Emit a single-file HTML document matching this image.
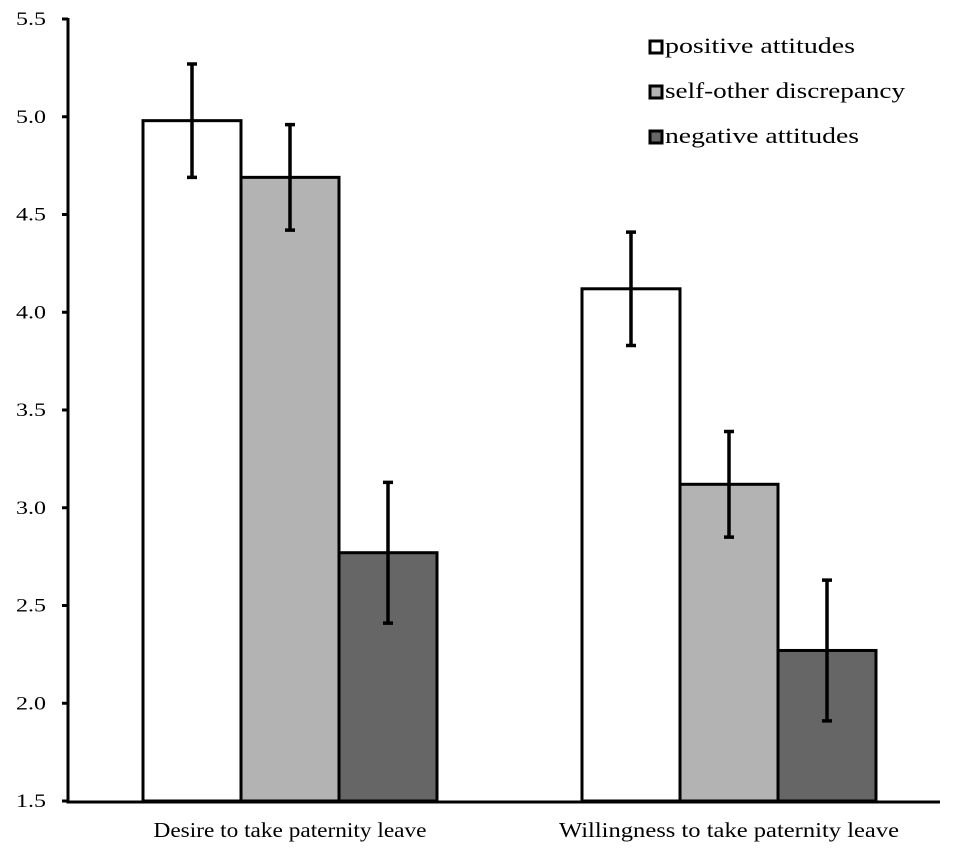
<!DOCTYPE html>
<html><head><meta charset="utf-8"><style>
body{margin:0;background:#fff;}
svg{display:block;font-family:"Liberation Serif",serif;}
</style></head><body>
<svg id="chart" width="957" height="857"></svg>
<script>
const categories=["Desire to take paternity leave","Willingness to take paternity leave"];
const seriesNames=["positive attitudes","self-other discrepancy","negative attitudes"];
const positive=[4.98,4.12];
const selfOther=[4.69,3.12];
const negative=[2.77,2.27];
const errPositive=[0.29,0.29];
const errSelfOther=[0.27,0.27];
const errNegative=[0.36,0.36];
const yTicks=[1.5,2.0,2.5,3.0,3.5,4.0,4.5,5.0,5.5];
const series=[positive,selfOther,negative];
const errs=[errPositive,errSelfOther,errNegative];
const fills=["#ffffff","#b3b3b3","#666666"];
const NS="http://www.w3.org/2000/svg";
const svg=document.getElementById('chart');
function y(v){return 801-(v-1.5)*195.5;}
const groupStart=[143,582], barW=98;
const catWidths=[273,340];
const legendWidths=[190,240,194];
function el(t,a){const e=document.createElementNS(NS,t);for(const k in a)e.setAttribute(k,a[k]);svg.appendChild(e);return e;}
series.forEach((s,si)=>{s.forEach((v,ci)=>{
 const x=groupStart[ci]+si*barW;
 const r=el('rect',{x:x,y:y(v),width:barW,height:y(1.5)-y(v),fill:fills[si],stroke:'#000','stroke-width':3});
 
 
 const cx=x+barW/2,e=errs[si][ci];
 const g=el('path',{d:`M${cx},${y(v+e)}V${y(v-e)}M${cx-5},${y(v+e)}H${cx+5}M${cx-5},${y(v-e)}H${cx+5}`,stroke:'#000','stroke-width':3.5,fill:'none'});
 
 
});});
const ax=el('path',{d:'M68,18V802H940',stroke:'#000','stroke-width':3,fill:'none'});


yTicks.forEach(t=>{
 el('path',{d:`M62,${y(t)}H68`,stroke:'#000','stroke-width':3});
 const tx=el('text',{x:46,y:y(t)+6,'font-size':19,'text-anchor':'end',textLength:30,lengthAdjust:'spacingAndGlyphs'});
 tx.textContent=t.toFixed(1);
 
 
});
categories.forEach((c,ci)=>{
 const tx=el('text',{x:groupStart[ci]+barW*1.5,y:837,'font-size':21,'text-anchor':'middle',textLength:catWidths[ci],lengthAdjust:'spacingAndGlyphs'});
 tx.textContent=c;
 
 
});
seriesNames.forEach((n,i)=>{
 const yy=47+i*45;
 const r=el('rect',{x:650,y:yy-6,width:12,height:12,fill:fills[i],stroke:'#000','stroke-width':3});
 
 
 const tx=el('text',{x:665,y:yy+6,'font-size':22,textLength:legendWidths[i],lengthAdjust:'spacingAndGlyphs'});
 tx.textContent=n;
 
 
});
</script>
</body></html>
